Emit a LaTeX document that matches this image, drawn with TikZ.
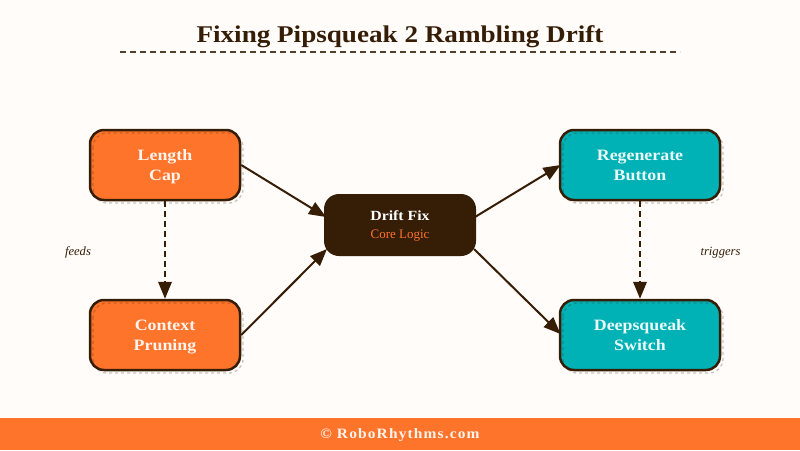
\documentclass[tikz,border=0pt]{standalone}
\usepackage{fontspec}
\setmainfont{Liberation Serif}
\newfontfamily\wide[FakeStretch=1.13]{Liberation Serif}
\newfontfamily\spaced[FakeStretch=1.08,LetterSpace=8]{Liberation Serif}
\usetikzlibrary{arrows.meta}
\definecolor{bgc}{HTML}{FFFCFA}
\definecolor{ink}{HTML}{351D06}
\definecolor{orng}{HTML}{FF742B}
\definecolor{teal}{HTML}{00B2B5}
\newcommand{\firstln}{\rule{0pt}{14.5pt}}
\newcommand{\lastln}{\rule[-4.5pt]{0pt}{5pt}}
\tikzset{
  boxnode/.style={draw=ink,line width=2.5pt,rounded corners=14pt,minimum height=70pt,inner sep=0pt,align=center,text=white,font=\wide\bfseries\fontsize{15.8}{20}\selectfont},
  orangebox/.style={boxnode,minimum width=150pt,fill=orng,text=orng!8!white},
  tealbox/.style={boxnode,minimum width=160pt,fill=teal,text=teal!8!white},
  hub/.style={fill=ink,rounded corners=15pt,minimum width=152pt,minimum height=62pt,inner sep=0pt},
  shadowbox/.style={draw=ink,draw opacity=0.25,line width=1.3pt,dash pattern=on 3pt off 3pt,rounded corners=14pt},
  link/.style={draw=ink,line width=2pt,-{Triangle[length=17pt,width=13.5pt]}},
  dlink/.style={link,dash pattern=on 6pt off 4pt},
  note/.style={font=\itshape\fontsize{12.6}{14}\selectfont,text=ink,anchor=base}
}
\begin{document}
\begin{tikzpicture}[x=1pt,y=-1pt]
\useasboundingbox (0,0) rectangle (800,450);
\fill[bgc] (0,0) rectangle (800,450);
\node[font=\wide\bfseries\fontsize{24}{30}\selectfont,text=ink] (title) at (400,36.5) {Fixing Pipsqueak 2 Rambling Drift};
\coordinate (ruleL) at (120,52); \coordinate (ruleR) at (680,52);
\draw[ink!85!white,line width=2pt,dash pattern=on 6pt off 4pt] (ruleL) -- (ruleR);
\node[orangebox] (len) at (165,165) {\firstln Length\\\lastln Cap};
\node[orangebox] (ctx) at (165,335) {\firstln Context\\\lastln Pruning};
\node[tealbox] (reg) at (640,165) {\firstln Regenerate\\\lastln Button};
\node[tealbox] (deep) at (640,335) {\firstln Deepsqueak\\\lastln Switch};
\foreach \x/\y/\w in {93/133/150,563/133/160,93/303/150,563/303/160}
  \draw[shadowbox] (\x,\y) rectangle ++(\w,70);
\node[hub] (hubn) at (400,225) {};
\node[font=\wide\bfseries\fontsize{14}{16}\selectfont,text=white] (hubA) at (400,215.5) {Drift Fix};
\node[font=\fontsize{13}{16}\selectfont,text=orng] (hubB) at (400,235.5) {Core Logic};
\coordinate (inA) at (326,217);
\coordinate (inB) at (327,249);
\coordinate (outA) at (475,217);
\coordinate (outB) at (474,249);
\coordinate (endA) at (560.5,165);
\coordinate (endB) at (560.5,334);
\draw[link] (len.east) -- (inA);
\draw[link] (ctx.east) -- (inB);
\draw[link] (outA) -- (endA);
\draw[link] (outB) -- (endB);
\draw[dlink] (len) -- (ctx);
\draw[dlink] (reg) -- (deep);
\node[note] (feeds) at (78,255) {feeds};
\node[note] (trig) at (720.5,255) {triggers};
\fill[orng] (0,418) rectangle (800,450);
\node[font=\spaced\bfseries\fontsize{14.3}{16}\selectfont,text=orng!8!white] (foot) at (400,435.5) {© RoboRhythms.com};
\end{tikzpicture}
\end{document}
